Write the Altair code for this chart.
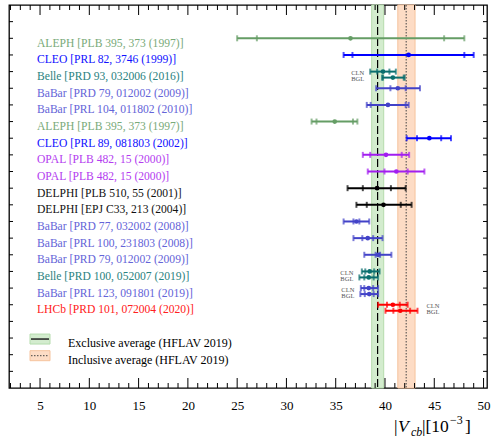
import altair as alt
import pandas as pd

# ---------------- data ----------------
row_labels = [
    "ALEPH [PLB 395, 373 (1997)]",
    "CLEO [PRL 82, 3746 (1999)]",
    "Belle [PRD 93, 032006 (2016)]",
    "BaBar [PRD 79, 012002 (2009)]",
    "BaBar [PRL 104, 011802 (2010)]",
    "ALEPH [PLB 395, 373 (1997)]",
    "CLEO [PRL 89, 081803 (2002)]",
    "OPAL [PLB 482, 15 (2000)]",
    "OPAL [PLB 482, 15 (2000)]",
    "DELPHI [PLB 510, 55 (2001)]",
    "DELPHI [EPJ C33, 213 (2004)]",
    "BaBar [PRD 77, 032002 (2008)]",
    "BaBar [PRL 100, 231803 (2008)]",
    "BaBar [PRD 79, 012002 (2009)]",
    "Belle [PRD 100, 052007 (2019)]",
    "BaBar [PRL 123, 091801 (2019)]",
    "LHCb [PRD 101, 072004 (2020)]",
]
row_experiments = ["ALEPH", "CLEO", "Belle", "BaBar", "BaBar", "ALEPH", "CLEO", "OPAL", "OPAL",
                   "DELPHI", "DELPHI", "BaBar", "BaBar", "BaBar", "Belle", "BaBar", "LHCb"]

meas_row = [1, 2, 3, 3, 4, 5, 6, 7, 8, 9, 10, 11, 12, 13, 14, 15, 15, 16, 16, 17, 17]
meas_fit = ["", "", "CLN", "BGL", "", "", "", "", "", "", "", "", "", "", "",
            "CLN", "BGL", "CLN", "BGL", "CLN", "BGL"]
meas_center = [36.5, 42.4, 39.8, 40.8, 41.3, 40.3, 34.9, 44.5, 40.1, 41.15, 39.2, 39.85,
               37.1, 38.25, 39.3, 38.45, 38.35, 38.35, 38.4, 40.8, 41.55]
meas_stat_lo = [27.0, 36.7, 39.2, 39.8, 40.55, 38.55, 33.05, 43.25, 38.5, 39.95, 37.75, 38.15,
                36.8, 37.7, 39.05, 38.0, 37.9, 37.9, 37.95, 40.2, 40.85]
meas_stat_hi = [46.0, 48.05, 40.45, 41.9, 42.1, 42.1, 36.75, 45.7, 41.7, 42.3, 40.6, 41.6,
                37.4, 38.8, 39.5, 38.9, 38.85, 38.8, 38.85, 41.5, 42.55]
meas_tot_lo = [25.0, 35.8, 38.5, 39.7, 39.1, 38.15, 32.55, 42.2, 37.75, 38.25, 36.2, 37.1,
               35.8, 36.8, 37.9, 37.65, 37.4, 37.55, 37.5, 39.3, 40.05]
meas_tot_hi = [48.05, 49.0, 41.1, 42.0, 43.55, 42.4, 37.2, 46.7, 42.45, 44.0, 42.1, 42.7,
               38.4, 39.75, 40.65, 39.45, 39.3, 39.3, 39.3, 42.3, 43.3]

exp_colors = {
    "ALEPH": "#659d65",
    "CLEO": "#0000ff",
    "Belle": "#0a6e6e",
    "BaBar": "#4242c8",
    "OPAL": "#a21ef0",
    "DELPHI": "#000000",
    "LHCb": "#ff0000",
}
label_colors = {
    "ALEPH": "#79aa79",
    "CLEO": "#1010ff",
    "Belle": "#2a8280",
    "BaBar": "#6464d8",
    "OPAL": "#b43cf0",
    "DELPHI": "#111111",
    "LHCb": "#ff2020",
}

# averages (HFLAV 2019)
avg_names = ["Exclusive average (HFLAV 2019)", "Inclusive average (HFLAV 2019)"]
avg_center = [39.25, 42.15]
avg_lo = [38.65, 41.3]
avg_hi = [39.87, 43.05]
avg_fill = ["#d3ecce", "#fddcc5"]
avg_edge = ["#b5dcad", "#f6c39d"]

# fit-label annotations (rows with CLN / BGL)
fit_rows = [3, 15, 16, 17]
fit_side = ["left", "left", "left", "right"]

# axis ticks
major_ticks = [5, 10, 15, 20, 25, 30, 35, 40, 45, 50]
minor_ticks = [v for v in range(2, 51) if v % 5 != 0]
row_ticks = list(range(0, 22))

# ---------------- layout ----------------
W, H = 478, 383
BGL_SHIFT = 0.36
FONT = "Liberation Serif"

x_scale = alt.Scale(domain=[1.85, 50.35], nice=False, zero=False)
y_scale = alt.Scale(domain=[-1, 22], reverse=True, nice=False, zero=False)
x_axis = alt.Axis(values=major_ticks, ticks=False, domain=False, grid=False, title=None,
                  labelFont=FONT, labelFontSize=13, labelPadding=11, labelColor="#000")


def X(f):
    return alt.X(f, type="quantitative", scale=x_scale, axis=x_axis)


def Y(f):
    return alt.Y(f, type="quantitative", scale=y_scale, axis=None)


meas = pd.DataFrame({
    "row": meas_row, "fit": meas_fit, "c": meas_center,
    "slo": meas_stat_lo, "shi": meas_stat_hi, "tlo": meas_tot_lo, "thi": meas_tot_hi,
})
meas["exp"] = [row_experiments[r - 1] for r in meas_row]
meas["col"] = meas["exp"].map(exp_colors)
meas["y"] = meas["row"] + meas["fit"].eq("BGL") * BGL_SHIFT

labels = pd.DataFrame({"row": list(range(1, len(row_labels) + 1)), "label": row_labels,
                       "exp": row_experiments})
labels["col"] = labels["exp"].map(label_colors)

bands = pd.DataFrame({"name": avg_names, "c": avg_center, "lo": avg_lo, "hi": avg_hi,
                      "fill": avg_fill, "edge": avg_edge})

ann_rows = []
for r, s in zip(fit_rows, fit_side):
    sub = meas[meas["row"] == r]
    xv = sub["tlo"].min() if s == "left" else sub["thi"].max()
    for f in ["CLN", "BGL"]:
        ann_rows.append({"x": xv, "y": r + (BGL_SHIFT if f == "BGL" else 0), "t": f, "side": s})
ann = pd.DataFrame(ann_rows)

# bands & average lines
band_layer = alt.Chart(bands).mark_rect(strokeWidth=1).encode(
    x=X("lo"), x2="hi",
    fill=alt.Fill("fill:N", scale=None), stroke=alt.Stroke("edge:N", scale=None))
excl_line = alt.Chart(bands.iloc[[0]]).mark_rule(color="#000", strokeWidth=1.2,
                                                 strokeDash=[8, 3]).encode(x=X("c"))
incl_line = alt.Chart(bands.iloc[[1]]).mark_rule(color="#444", strokeWidth=1,
                                                 strokeDash=[1.5, 1.5]).encode(x=X("c"))

# error bars
bar_rule = alt.Chart(meas).mark_rule(strokeWidth=2).encode(
    x=X("tlo"), x2="thi", y=Y("y"), color=alt.Color("col:N", scale=None))
caps = alt.Chart(meas).transform_fold(["slo", "shi", "tlo", "thi"], as_=["k", "v"]).mark_tick(
    orient="vertical", size=6, thickness=2).encode(
    x=X("v"), y=Y("y"), color=alt.Color("col:N", scale=None))
dots = alt.Chart(meas).mark_circle(size=22, opacity=1).encode(
    x=X("c"), y=Y("y"), color=alt.Color("col:N", scale=None))

# row labels
lab_layer = alt.Chart(labels).mark_text(align="left", baseline="middle", dy=5.5, font=FONT,
                                        fontSize=11.6).encode(
    x=alt.value(28), y=Y("row"), text="label:N", color=alt.Color("col:N", scale=None))

# CLN/BGL annotations
ann_left = alt.Chart(ann[ann["side"] == "left"]).mark_text(
    align="right", baseline="middle", dx=-6, dy=1.5, font=FONT, fontSize=6.5, color="#555").encode(
    x=X("x"), y=Y("y"), text="t:N")
ann_right = alt.Chart(ann[ann["side"] == "right"]).mark_text(
    align="left", baseline="middle", dx=9, dy=1.5, font=FONT, fontSize=6.5, color="#555").encode(
    x=X("x"), y=Y("y"), text="t:N")

# legend
leg = pd.DataFrame({"name": avg_names, "fill": avg_fill, "edge": avg_edge,
                    "r": [19.06, 20.06]})
leg["r0"] = leg["r"] - 0.3
leg["r1"] = leg["r"] + 0.3
leg_box = alt.Chart(leg).mark_rect(strokeWidth=1).encode(
    x=alt.value(21), x2=alt.value(41), y=Y("r0"), y2="r1",
    fill=alt.Fill("fill:N", scale=None), stroke=alt.Stroke("edge:N", scale=None))
leg_l1 = alt.Chart(leg.iloc[[0]]).mark_rule(color="#222", strokeWidth=1.5).encode(
    x=alt.value(22), x2=alt.value(40), y=Y("r"))
leg_l2 = alt.Chart(leg.iloc[[1]]).mark_rule(color="#444", strokeWidth=1,
                                             strokeDash=[1.5, 1.5]).encode(
    x=alt.value(22), x2=alt.value(40), y=Y("r"))
leg_txt = alt.Chart(leg).mark_text(align="left", baseline="middle", dy=4, font=FONT,
                                   fontSize=12, color="#000").encode(
    x=alt.value(59), y=Y("r"), text="name:N")

# frame ticks
maj = pd.DataFrame({"v": major_ticks})
mnr = pd.DataFrame({"v": minor_ticks})
rws = pd.DataFrame({"r": row_ticks})
tick_layers = [
    alt.Chart(maj).mark_rule(color="#000", strokeWidth=1).encode(x=X("v"), y=alt.value(0), y2=alt.value(10)),
    alt.Chart(maj).mark_rule(color="#000", strokeWidth=1).encode(x=X("v"), y=alt.value(H), y2=alt.value(H - 10)),
    alt.Chart(mnr).mark_rule(color="#000", strokeWidth=1).encode(x=X("v"), y=alt.value(0), y2=alt.value(5)),
    alt.Chart(mnr).mark_rule(color="#000", strokeWidth=1).encode(x=X("v"), y=alt.value(H), y2=alt.value(H - 5)),
    alt.Chart(rws).mark_rule(color="#000", strokeWidth=1).encode(y=Y("r"), x=alt.value(0), x2=alt.value(4)),
    alt.Chart(rws).mark_rule(color="#000", strokeWidth=1).encode(y=Y("r"), x=alt.value(W), x2=alt.value(W - 4)),
]

# axis title |V_cb| [10^-3]
title_parts = pd.DataFrame({
    "t": ["|", "V", "cb", "|[10", "\u22123", "]"],
    "x": [385, 389, 402, 413, 441, 456],
    "y": [427, 427, 431, 427, 419, 427],
    "fs": [17.5, 17.5, 12, 17.5, 12, 17.5],
    "it": ["normal", "italic", "italic", "normal", "normal", "normal"],
})
title_layers = []
for _, p in title_parts.iterrows():
    title_layers.append(
        alt.Chart(pd.DataFrame({"t": [p["t"]]})).mark_text(
            align="left", baseline="alphabetic", font=FONT, fontSize=float(p["fs"]),
            fontStyle=p["it"], color="#000").encode(
            x=alt.value(int(p["x"])), y=alt.value(int(p["y"])), text="t:N"))

chart = alt.layer(
    band_layer, excl_line, incl_line, bar_rule, caps, dots, lab_layer, ann_left, ann_right,
    leg_box, leg_l1, leg_l2, leg_txt, *tick_layers, *title_layers
).properties(
    width=W, height=H,
    autosize=alt.AutoSizeParams(type="none"),
    padding={"left": 9, "top": 5, "right": 6, "bottom": 51},
    background="white",
).configure_view(stroke="#000", strokeWidth=1.3)

chart.save("out.html", embed_options={"renderer": "svg", "actions": False})
